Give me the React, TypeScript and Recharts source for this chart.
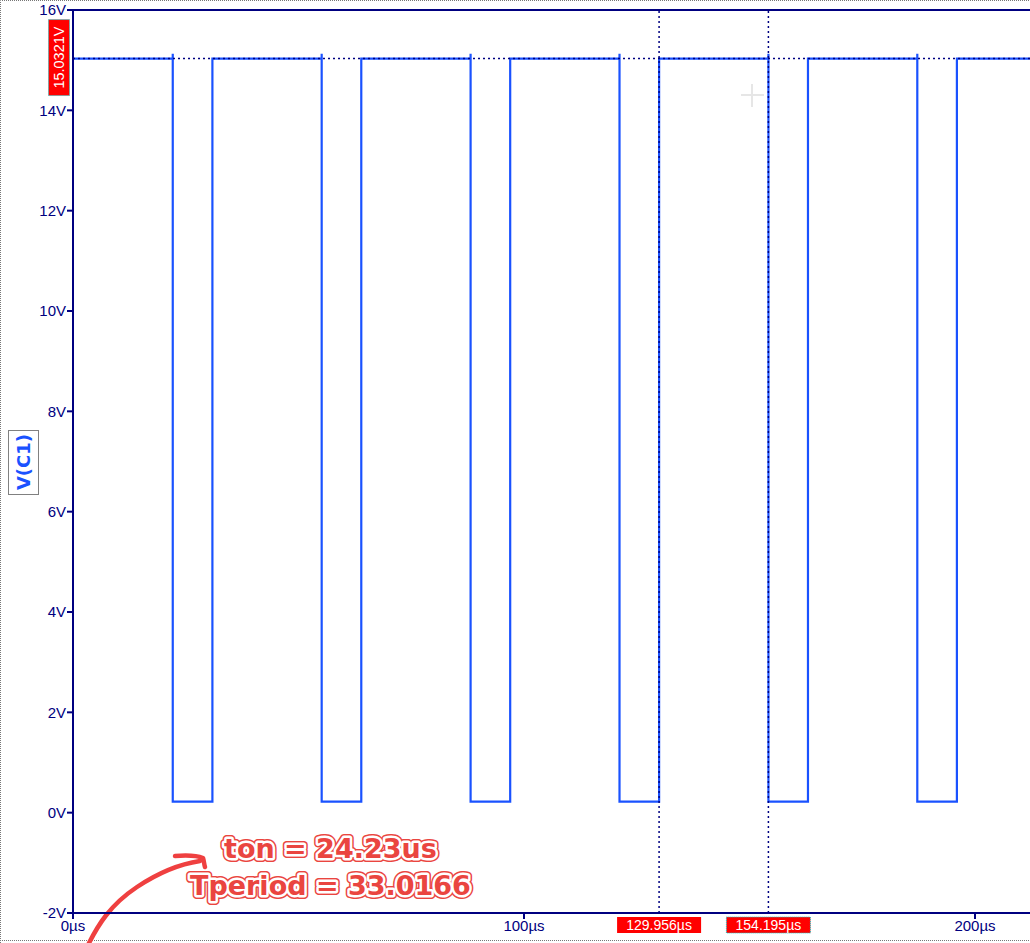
import React from 'react';
import { LineChart, Line, XAxis, YAxis, ReferenceLine, Customized } from 'recharts';

// ---- data ----
const vHigh = 15.03;
const vSpike = 15.13;
const vLow = 0.22;
const fallTimes = [22.12, 55.14, 88.16, 121.18, 154.2, 187.21]; // µs
const riseTimes = [30.91, 63.92, 96.94, 129.96, 162.97, 195.99]; // µs
const tStart = 0;
const tEnd = 212.2;
const yTicks = [-2, 0, 2, 4, 6, 8, 10, 12, 14, 16];
const xTicks = [0, 100, 200];
const cursorTimes = [129.956, 154.195];
const cursorVoltage = 15.0321;
const traceName = 'V(C1)';
const noteLines = ['ton = 24.23us', 'Tperiod = 33.0166'];

const data: { t: number; v: number }[] = [{ t: tStart, v: vHigh }];
fallTimes.forEach((f, i) => {
  data.push({ t: f, v: vHigh });
  data.push({ t: f, v: vSpike });
  data.push({ t: f, v: vLow });
  data.push({ t: riseTimes[i], v: vLow });
  data.push({ t: riseTimes[i], v: vHigh });
});
data.push({ t: tEnd, v: vHigh });

const NAVY = '#000080';
const TRACE = '#1a52ff';
const RED = '#ff0000';
const NOTE_RED = '#ea4540';
const FONT = '"Liberation Sans", Arial, sans-serif';

const XCursorLabel = (props: any) => {
  const vb = props.viewBox || {};
  const x = vb.x;
  const y = vb.y + vb.height;
  const selected = props.selected;
  return (
    <g>
      <rect x={x - 42} y={y + 4} width={84} height={16} fill={RED}
        stroke={selected ? '#20c0c0' : 'none'} strokeDasharray="1 1" strokeWidth={1} />
      <text x={x} y={y + 12} textAnchor="middle" dominantBaseline="central"
        fill="#ffffff" fontFamily={FONT} fontSize={14}>{props.text}</text>
    </g>
  );
};

const YCursorLabel = (props: any) => {
  const vb = props.viewBox || {};
  const cx = vb.x - 14;
  const cy = vb.y;
  return (
    <g>
      <rect x={cx - 10.5} y={cy - 39} width={21} height={76} fill={RED}
        stroke="#20c0c0" strokeDasharray="1 1" strokeWidth={1} />
      <text x={cx} y={cy - 1} textAnchor="middle" dominantBaseline="central"
        transform={`rotate(-90 ${cx} ${cy - 1})`}
        fill="#ffffff" fontFamily={FONT} fontSize={14.5}>{props.text}</text>
    </g>
  );
};

const Decor = () => {
  const noteFont = '"DejaVu Sans", sans-serif';
  const fs = 27;
  const renderNote = (s: string, x: number, y: number, k: number) => (
    <g key={k}>
      <text x={x} y={y} fontFamily={noteFont} fontWeight="bold" fontSize={fs}
        fill={NOTE_RED} stroke={NOTE_RED} strokeWidth={8} strokeLinejoin="round">{s}</text>
      <text x={x} y={y} fontFamily={noteFont} fontWeight="bold" fontSize={fs}
        fill="#ffffff" stroke="#ffffff" strokeWidth={5} strokeLinejoin="round">{s}</text>
      <text x={x} y={y} fontFamily={noteFont} fontWeight="bold" fontSize={fs}
        fill={NOTE_RED}>{s}</text>
    </g>
  );
  return (
    <g>
      {/* outer dotted frame */}
      <path d="M0.5,943 V0.5 H1030" fill="none" stroke="#777" strokeDasharray="1 1" />
      <line x1={0} y1={940.5} x2={1030} y2={940.5} stroke="#777" strokeDasharray="1 1" />
      {/* trace name */}
      <rect x={8.5} y={430.5} width={30} height={64} fill="none" stroke="#000" strokeDasharray="1 1" />
      <text x={23} y={462} textAnchor="middle" dominantBaseline="central"
        transform="rotate(-90 23 462)" fill={TRACE} fontFamily='"DejaVu Sans", sans-serif'
        fontWeight="bold" fontSize={18}>{traceName}</text>
      {/* faint cross */}
      <line x1={741} y1={95} x2={764} y2={95} stroke="#e6e6e6" strokeWidth={2} />
      <line x1={752} y1={84} x2={752} y2={107} stroke="#e6e6e6" strokeWidth={2} />
      {/* annotation */}
      {renderNote(noteLines[0], 224, 858, 0)}
      {renderNote(noteLines[1], 190, 895, 1)}
      <path d="M88,945 C98,925 110,905 137,887 C158,873 180,864 200,861"
        fill="none" stroke="#ef4040" strokeWidth={4.5} strokeLinecap="round" />
      <path d="M175,856 C188,855 198,856 203,858 C204,861 204,864 205,867"
        fill="none" stroke="#ef4040" strokeWidth={4.5} strokeLinecap="round" strokeLinejoin="round" />
    </g>
  );
};

export default function App() {
  return (
    <div style={{ position: 'absolute', left: 0, top: 0, width: 1030, height: 943, background: '#fff' }}>
      <LineChart width={1030} height={943} data={data}
        margin={{ top: 10, right: 0, bottom: 0, left: 0 }}>
        <XAxis dataKey="t" type="number" domain={[tStart, tEnd]} ticks={xTicks}
          allowDataOverflow
          tickFormatter={(v: number) => `${v}µs`} height={30}
          axisLine={{ stroke: NAVY, strokeWidth: 2 }} tickLine={{ stroke: NAVY, strokeWidth: 2 }}
          tickSize={6} tickMargin={1}
          tick={{ fill: NAVY, fontSize: 15, fontFamily: FONT }} />
        <YAxis type="number" domain={[-2, 16]} ticks={yTicks} width={73}
          allowDataOverflow
          tickFormatter={(v: number) => `${v}V`}
          axisLine={{ stroke: NAVY, strokeWidth: 2 }} tickLine={{ stroke: NAVY, strokeWidth: 2 }}
          tickSize={6} tickMargin={1}
          tick={{ fill: NAVY, fontSize: 15, fontFamily: FONT }} />
        <ReferenceLine y={16} stroke={NAVY} strokeWidth={2} />
        <Line type="linear" dataKey="v" stroke={TRACE} strokeWidth={2.2} dot={false}
          activeDot={false} isAnimationActive={false} />
        <ReferenceLine y={cursorVoltage} stroke={NAVY} strokeWidth={1.5} strokeDasharray="2 3"
          label={<YCursorLabel text={`${cursorVoltage}V`} />} />
        <ReferenceLine x={cursorTimes[0]} stroke={NAVY} strokeWidth={1.5} strokeDasharray="2 3"
          label={<XCursorLabel text={`${cursorTimes[0]}µs`} />} />
        <ReferenceLine x={cursorTimes[1]} stroke={NAVY} strokeWidth={1.5} strokeDasharray="2 3"
          label={<XCursorLabel text={`${cursorTimes[1]}µs`} selected />} />
        <Customized component={<Decor />} />
      </LineChart>
    </div>
  );
}
